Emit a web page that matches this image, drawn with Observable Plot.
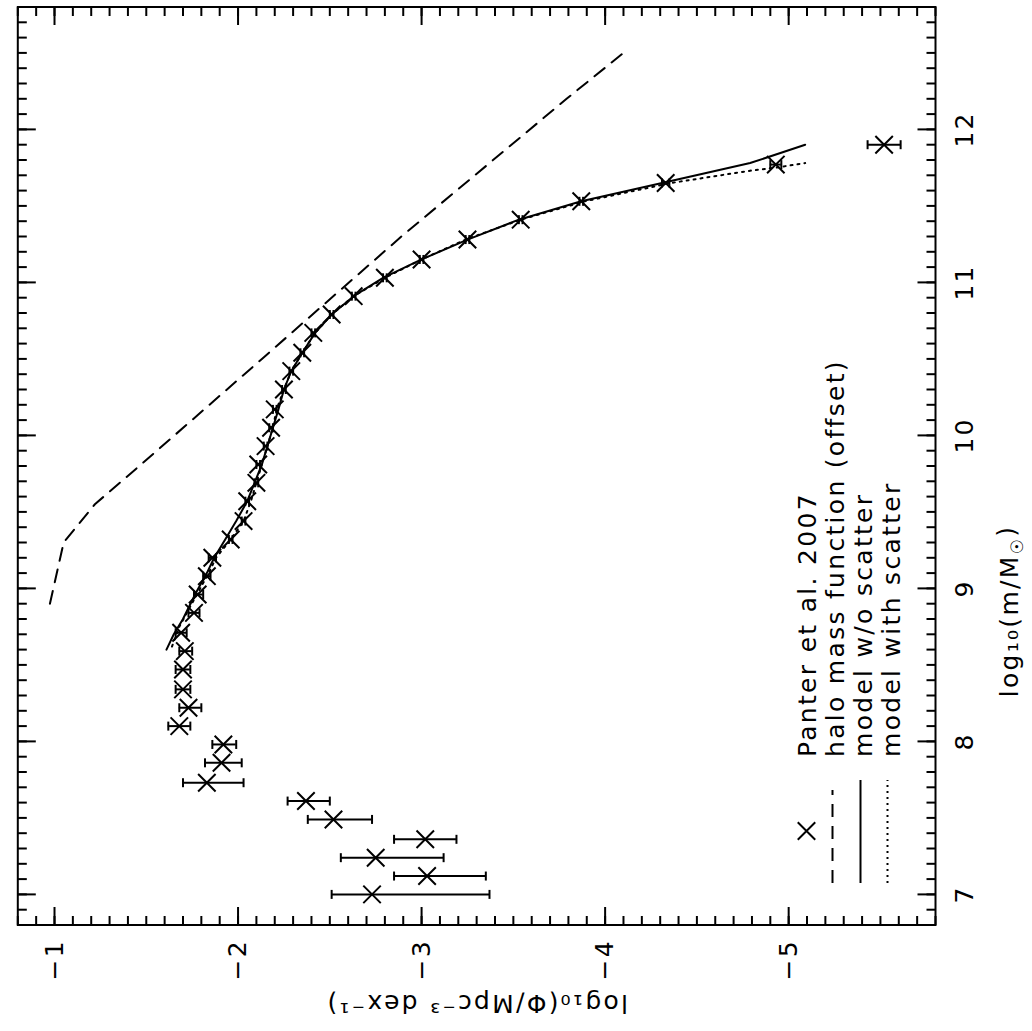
<!DOCTYPE html>
<html>
<head>
<meta charset="utf-8">
<script src="https://cdn.jsdelivr.net/npm/d3@7"></script>
<script src="https://cdn.jsdelivr.net/npm/@observablehq/plot@0.6"></script>
<style>
html, body { margin: 0; padding: 0; background: #fff; }
#wrap { position: relative; width: 1032px; height: 1031px; overflow: hidden; background: #fff; }
#wrap svg { position: absolute; left: 0; top: 0; max-width: none; transform-origin: 0 0; transform: translate(0px, 1031px) rotate(-90deg); }
#wrap svg text { letter-spacing: 2.3px; }
</style>
</head>
<body>
<div id="wrap"></div>
<script>
// ---- Panter et al. 2007 (log10 m, log10 Phi, error range) ----
const panterMass = [7.00, 7.12, 7.24, 7.36, 7.49, 7.61, 7.73, 7.86, 7.98, 8.10,
  8.22, 8.34, 8.47, 8.59, 8.71, 8.84, 8.96, 9.08, 9.20, 9.32,
  9.44, 9.57, 9.69, 9.81, 9.93, 10.05, 10.17, 10.30, 10.42, 10.54,
  10.67, 10.79, 10.91, 11.03, 11.15, 11.28, 11.41, 11.53, 11.65, 11.77, 11.90];
const panterPhi = [-2.73, -3.03, -2.75, -3.02, -2.52, -2.37, -1.83, -1.91, -1.92, -1.68,
  -1.73, -1.70, -1.70, -1.71, -1.69, -1.76, -1.78, -1.83, -1.86, -1.96,
  -2.03, -2.05, -2.10, -2.11, -2.15, -2.18, -2.20, -2.25, -2.29, -2.35,
  -2.41, -2.51, -2.63, -2.80, -3.00, -3.25, -3.54, -3.87, -4.33, -4.93, -5.52];
const panterErrTop = [-2.51, -2.85, -2.56, -2.85, -2.38, -2.27, -1.70, -1.82, -1.86, -1.62,
  -1.68, -1.66, -1.66, -1.68, -1.66, -1.73, -1.76, -1.81, -1.84, -1.95,
  -2.02, -2.04, -2.09, -2.10, -2.14, -2.17, -2.19, -2.24, -2.28, -2.34,
  -2.40, -2.50, -2.62, -2.79, -2.99, -3.24, -3.53, -3.86, -4.31, -4.90, -5.43];
const panterErrBottom = [-3.37, -3.35, -3.12, -3.19, -2.73, -2.50, -2.03, -2.02, -1.99, -1.74,
  -1.80, -1.74, -1.74, -1.75, -1.72, -1.79, -1.81, -1.85, -1.88, -1.97,
  -2.04, -2.06, -2.11, -2.12, -2.16, -2.19, -2.21, -2.26, -2.30, -2.36,
  -2.42, -2.52, -2.64, -2.81, -3.01, -3.26, -3.55, -3.88, -4.35, -4.96, -5.61];

// ---- model without scatter (solid) ----
const modelNoScatterMass = [8.60, 8.70, 8.80, 8.97, 9.10, 9.20, 9.32, 9.44, 9.57, 9.69,
  9.81, 9.93, 10.05, 10.17, 10.30, 10.42, 10.54, 10.67, 10.79, 10.91,
  11.03, 11.15, 11.28, 11.41, 11.53, 11.65, 11.78, 11.90];
const modelNoScatterPhi = [-1.61, -1.65, -1.70, -1.77, -1.83, -1.87, -1.93, -1.99, -2.05, -2.09,
  -2.13, -2.16, -2.19, -2.22, -2.25, -2.29, -2.35, -2.42, -2.51, -2.63,
  -2.79, -3.00, -3.25, -3.53, -3.87, -4.31, -4.79, -5.09];

// ---- model with scatter (dotted) ----
const modelScatterMass = [8.62, 8.75, 8.97, 9.10, 9.20, 9.32, 9.44, 9.57, 9.69, 9.81,
  9.93, 10.05, 10.17, 10.30, 10.42, 10.54, 10.67, 10.79, 10.91, 11.03,
  11.15, 11.28, 11.41, 11.53, 11.65, 11.73, 11.75, 11.78];
const modelScatterPhi = [-1.64, -1.68, -1.78, -1.84, -1.88, -1.96, -2.03, -2.07, -2.10, -2.13,
  -2.16, -2.19, -2.21, -2.25, -2.29, -2.35, -2.42, -2.51, -2.63, -2.80,
  -3.00, -3.24, -3.54, -3.89, -4.36, -4.79, -4.93, -5.09];

// ---- halo mass function, offset (dashed) ----
const haloMass = [8.90, 9.30, 9.55, 9.86, 10.50, 11.30, 12.20, 12.51];
const haloPhi = [-0.975, -1.05, -1.22, -1.52, -2.13, -2.89, -3.79, -4.11];

// ---- axes ----
const massTicks = [7, 8, 9, 10, 11, 12];
const phiTicks = [-1, -2, -3, -4, -5];
const massDomain = [6.8, 12.8];
const phiDomain = [-5.8, -0.8];
const massTitle = "log\u2081\u2080(m/M\u2609)";
const phiTitle = "log\u2081\u2080(\u03A6/Mpc\u207B\u00B3 dex\u207B\u00B9)";
const legendLabels = ["Panter et al. 2007", "halo mass function (offset)", "model w/o scatter", "model with scatter"];

const massMinor = d3.range(Math.round(massDomain[0] * 10), Math.round(massDomain[1] * 10) + 1).map(i => i / 10);
const phiMinor = d3.range(Math.round(phiDomain[0] * 10), Math.round(phiDomain[1] * 10) + 1).map(i => i / 10);

const panter = panterMass.map((m, i) => ({m, phi: panterPhi[i], top: panterErrTop[i], bot: panterErrBottom[i]}));

const FONT = "DejaVu Sans";
const FS = 25;
const intFmt = d => (d < 0 ? "\u2212" : "") + Math.abs(d);
const seg = (dx, dy) => ({draw(ctx) { ctx.moveTo(0, 0); ctx.lineTo(dx, dy); }});
const hcap = {draw(ctx) { ctx.moveTo(-4.5, 0); ctx.lineTo(4.5, 0); }};
const tickStyle = {fill: "none", stroke: "black", strokeWidth: 2};

const legendDx = 42, legendLen = 103, legendTextDx = 168;
const rowDy = [-129, -103, -75, -48];
const textDy = [-120, -92, -64, -36];

const marks = [
  Plot.frame({stroke: "black", strokeWidth: 2}),
  // inward ticks on all four sides
  Plot.dotX(massTicks, {x: d => d, frameAnchor: "bottom", symbol: seg(0, -18), ...tickStyle}),
  Plot.dotX(massMinor, {x: d => d, frameAnchor: "bottom", symbol: seg(0, -9), ...tickStyle}),
  Plot.dotX(massTicks, {x: d => d, frameAnchor: "top", symbol: seg(0, 18), ...tickStyle}),
  Plot.dotX(massMinor, {x: d => d, frameAnchor: "top", symbol: seg(0, 9), ...tickStyle}),
  Plot.dotY(phiTicks, {y: d => d, frameAnchor: "left", symbol: seg(18, 0), ...tickStyle}),
  Plot.dotY(phiMinor, {y: d => d, frameAnchor: "left", symbol: seg(9, 0), ...tickStyle}),
  Plot.dotY(phiTicks, {y: d => d, frameAnchor: "right", symbol: seg(-18, 0), ...tickStyle}),
  Plot.dotY(phiMinor, {y: d => d, frameAnchor: "right", symbol: seg(-9, 0), ...tickStyle}),
  // tick labels
  Plot.axisX(massTicks, {tickSize: 0, tickPadding: 20, fontSize: FS, label: null, tickFormat: intFmt}),
  Plot.axisY(phiTicks, {tickSize: 0, tickPadding: 14, fontSize: FS, label: null, tickFormat: intFmt}),
  // axis titles
  Plot.text([massTitle], {text: d => d, frameAnchor: "bottom", dx: -145, dy: 82, lineAnchor: "bottom", fontSize: FS, textAnchor: "middle"}),
  Plot.text([phiTitle], {text: d => d, frameAnchor: "left", dx: -70, rotate: -90, lineAnchor: "bottom", fontSize: FS, textAnchor: "middle"}),
  // curves
  Plot.line(haloMass, {x: haloMass, y: haloPhi, stroke: "black", strokeWidth: 2, strokeDasharray: "13,9"}),
  Plot.line(modelScatterMass, {x: modelScatterMass, y: modelScatterPhi, stroke: "black", strokeWidth: 2, strokeDasharray: "2,5"}),
  Plot.line(modelNoScatterMass, {x: modelNoScatterMass, y: modelNoScatterPhi, stroke: "black", strokeWidth: 2}),
  // data with error bars
  Plot.ruleX(panter, {x: "m", y1: "top", y2: "bot", stroke: "black", strokeWidth: 2}),
  Plot.dot(panter, {x: "m", y: "top", symbol: hcap, fill: "none", stroke: "black", strokeWidth: 2}),
  Plot.dot(panter, {x: "m", y: "bot", symbol: hcap, fill: "none", stroke: "black", strokeWidth: 2}),
  Plot.dot(panter, {x: "m", y: "phi", symbol: "times", r: 8, stroke: "black", strokeWidth: 2}),
  // legend
  Plot.dot([legendLabels[0]], {frameAnchor: "bottom-left", dx: 94, dy: rowDy[0], symbol: "times", r: 8, stroke: "black", strokeWidth: 2}),
  Plot.dot([legendLabels[1]], {frameAnchor: "bottom-left", dx: legendDx, dy: rowDy[1], symbol: seg(legendLen - 10, 0), fill: "none", stroke: "black", strokeWidth: 2, strokeDasharray: "13,9"}),
  Plot.dot([legendLabels[2]], {frameAnchor: "bottom-left", dx: legendDx, dy: rowDy[2], symbol: seg(legendLen, 0), fill: "none", stroke: "black", strokeWidth: 2}),
  Plot.dot([legendLabels[3]], {frameAnchor: "bottom-left", dx: legendDx, dy: rowDy[3], symbol: seg(legendLen, 0), fill: "none", stroke: "black", strokeWidth: 2, strokeDasharray: "2,4"}),
  ...legendLabels.map((t, i) => Plot.text([t], {text: d => d, frameAnchor: "bottom-left", dx: legendTextDx, dy: textDy[i], textAnchor: "start", lineAnchor: "bottom", fontSize: FS}))
];

const chart = Plot.plot({
  width: 1031,
  height: 1032,
  marginLeft: 105.5,
  marginRight: 7.5,
  marginTop: 17.3,
  marginBottom: 97,
  x: {domain: massDomain},
  y: {domain: phiDomain},
  style: {fontFamily: FONT, fontSize: FS + "px", background: "white", color: "black"},
  marks
});

// render the solar symbol of the mass title as a subscript
d3.select(chart).selectAll("text").filter(function() { return this.textContent === massTitle; })
  .each(function() {
    const t = d3.select(this);
    t.text(null);
    t.append("tspan").text("log\u2081\u2080(m/M");
    t.append("tspan").attr("font-size", "17px").attr("dy", "0.3em").text("\u2609");
    t.append("tspan").attr("dy", "-0.3em").text(")");
  });

document.getElementById("wrap").appendChild(chart);
</script>
</body>
</html>
